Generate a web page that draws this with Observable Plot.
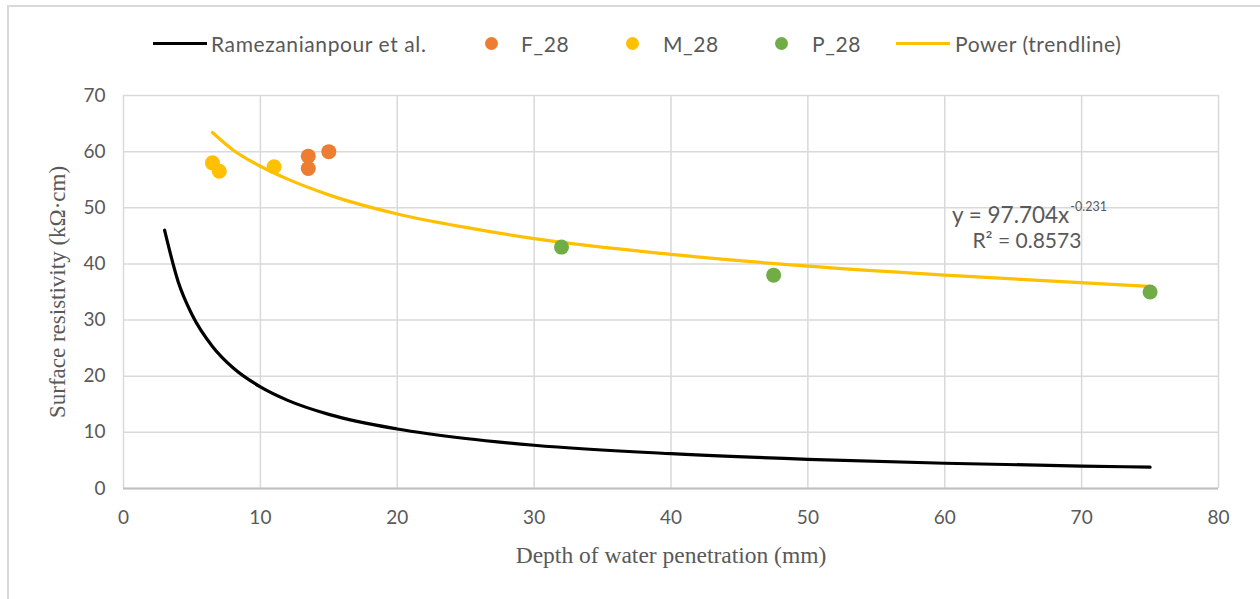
<!DOCTYPE html>
<html><head><meta charset="utf-8">
<script src="https://cdn.jsdelivr.net/npm/d3@7"></script>
<script src="https://cdn.jsdelivr.net/npm/@observablehq/plot@0.6"></script>
<style>
body{margin:0;background:#fff;width:1260px;height:599px;overflow:hidden;position:relative;font-family:Lato,"Liberation Sans",sans-serif;}
#frame{position:absolute;left:7px;top:5px;width:1300px;height:700px;border-left:2px solid #d9d9d9;border-top:2px solid #d9d9d9;}
#legend{position:absolute;left:0;top:0;width:1260px;height:70px;color:#595959;font-size:21px;letter-spacing:0.6px;}
.lt{position:absolute;top:43px;transform:translateY(-50%);white-space:nowrap;}
.ln{position:absolute;top:41.5px;width:54px;height:3px;}
.dt{position:absolute;top:36.5px;width:13px;height:13px;border-radius:50%;}
#chart{position:absolute;left:0;top:70px;}
</style></head>
<body>
<div id="frame"></div>
<div id="legend"></div>
<div id="chart"></div>
<script>
const xTicks = [0,10,20,30,40,50,60,70,80];
const yTicks = [0,10,20,30,40,50,60,70];
const ramX = [3,4,5,6.5,8,10,12,15,20,25,30,40,50,60,70,75];
const ramY = [46,36.8,31,25.3,21.5,18.1,15.7,13.2,10.6,8.9,7.7,6.2,5.2,4.5,4.0,3.8];
const fX = [13.5,13.5,15];
const fY = [59.2,57,60];
const mX = [6.5,7,11];
const mY = [58,56.5,57.3];
const pX = [32,47.5,75];
const pY = [43,38,35];
const trendX = [6.5,8,10,12,15,20,25,30,40,50,60,75];
const trendY = [63.4,60.3,57.4,55.1,52.3,48.9,46.5,44.5,41.7,39.6,38.0,36.0];
const seriesNames = ["Ramezanianpour et al.","F_28","M_28","P_28","Power (trendline)"];
const colors = {"Ramezanianpour et al.":"#000000","F_28":"#ED7D31","M_28":"#FFC000","P_28":"#70AD47","Power (trendline)":"#FFC000"};
const eqText = "y = 97.704x";
const eqExp = "-0.231";
const r2Text = "R² = 0.8573";

const ram = ramX.map((x,i)=>({x,y:ramY[i]}));
const trend = trendX.map((x,i)=>({x,y:trendY[i]}));
const pts = [
  ...fX.map((x,i)=>({x,y:fY[i],s:"F_28"})),
  ...mX.map((x,i)=>({x,y:mY[i],s:"M_28"})),
  ...pX.map((x,i)=>({x,y:pY[i],s:"P_28"}))
];

// legend layout: [marker left, text left]
const legendPos = {"Ramezanianpour et al.":[153,211],"F_28":[485,521],"M_28":[626,663],"P_28":[775,812],"Power (trendline)":[896,955]};
const lg = document.getElementById("legend");
seriesNames.forEach(n=>{
  const isLine = n==="Ramezanianpour et al."||n==="Power (trendline)";
  const m=document.createElement("div");m.className=isLine?"ln":"dt";m.style.background=colors[n];m.style.left=legendPos[n][0]+"px";
  const t=document.createElement("div");t.className="lt";t.style.left=legendPos[n][1]+"px";t.textContent=n;
  lg.appendChild(m);lg.appendChild(t);
});

const sans = "Lato,'Liberation Sans',sans-serif";
const serif = "'Liberation Serif','Times New Roman',serif";
const plot = Plot.plot({
  width:1260, height:529,
  marginLeft:123, marginRight:42, marginTop:25, marginBottom:111,
  style:{fontFamily:sans, fontSize:"19px", color:"#595959", background:"transparent"},
  x:{domain:[0,80], ticks:xTicks, tickSize:0, label:null},
  y:{domain:[0,70], ticks:yTicks, tickSize:0, label:null},
  marks:[
    Plot.gridX(xTicks,{stroke:"#d9d9d9",strokeOpacity:1,strokeWidth:1.5}),
    Plot.gridY(yTicks,{stroke:"#d9d9d9",strokeOpacity:1,strokeWidth:1.5}),
    Plot.ruleY([0],{stroke:"#bfbfbf",strokeWidth:2}),
    Plot.axisX({ticks:xTicks,tickSize:0,tickPadding:22,fill:"#595959",label:null}),
    Plot.axisY({ticks:yTicks,tickSize:0,tickPadding:18,fill:"#595959",label:null}),
    Plot.text(["Depth of water penetration (mm)"],{frameAnchor:"bottom",textAnchor:"middle",lineAnchor:"middle",dy:67,fontFamily:serif,fontSize:23.5,fill:"#595959"}),
    Plot.text(["Surface resistivity (kΩ·cm)"],{frameAnchor:"left",textAnchor:"middle",lineAnchor:"middle",dx:-66,rotate:-90,fontFamily:serif,fontSize:23,fill:"#595959"}),
    Plot.line(ram,{x:"x",y:"y",stroke:"#000",strokeWidth:3.2,curve:"monotone-x"}),
    Plot.line(trend,{x:"x",y:"y",stroke:"#FFC000",strokeWidth:3.2,curve:"monotone-x"}),
    Plot.dot(pts,{x:"x",y:"y",r:7.5,fill:d=>colors[d.s],stroke:"none"}),
    Plot.text([eqText],{x:69.1,y:48.6,textAnchor:"end",fontSize:22.5,fill:"#595959"}),
    Plot.text([eqExp],{x:69.1,y:48.6,dy:-9,dx:1,textAnchor:"start",fontSize:12.5,fill:"#595959"}),
    Plot.text([r2Text],{x:66,y:44.0,fontSize:21,fill:"#595959"})
  ]
});
document.getElementById("chart").appendChild(plot);
</script>
</body></html>
